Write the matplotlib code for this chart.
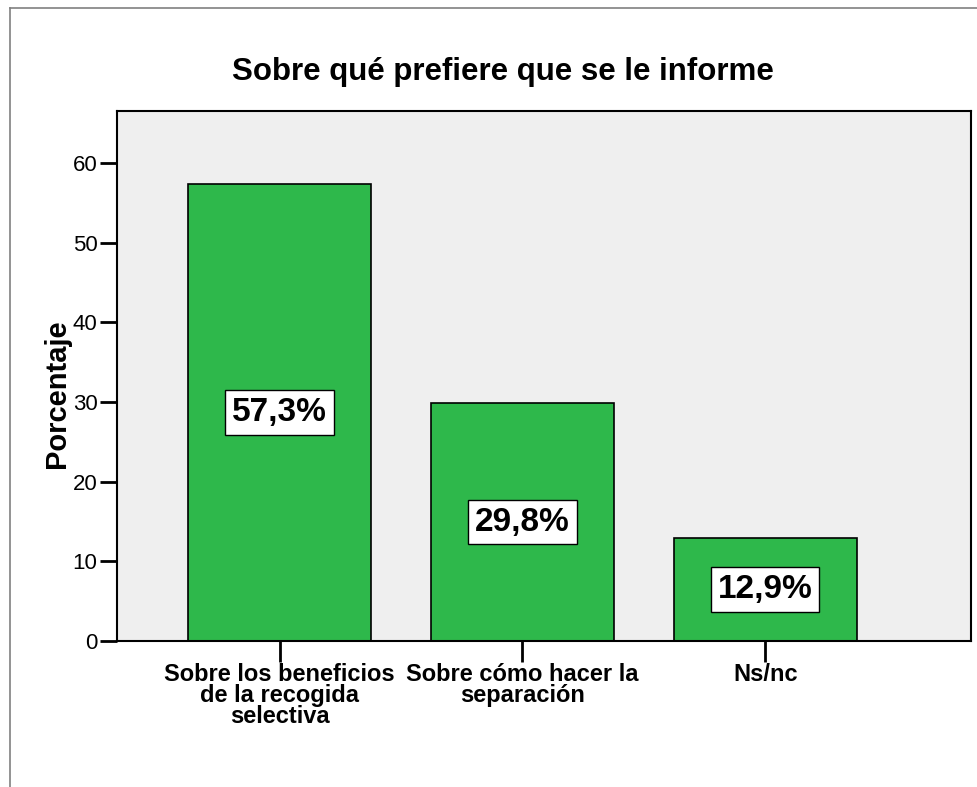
import matplotlib.pyplot as plt
from matplotlib.lines import Line2D

plt.rcParams['font.family'] = ['Liberation Sans', 'DejaVu Sans']

categories = ["Sobre los beneficios\nde la recogida\nselectiva",
              "Sobre cómo hacer la\nseparación",
              "Ns/nc"]
percentages = [57.3, 29.8, 12.9]
labels = ["57,3%", "29,8%", "12,9%"]
yticks = [0, 10, 20, 30, 40, 50, 60]

W, H = 977, 787
fig = plt.figure(figsize=(W / 100, H / 100), dpi=100)
ax = fig.add_axes([117 / W, 1 - 641 / H, (971 - 117) / W, (641 - 111) / H])
ax.set_facecolor('#efefef')

x = range(len(categories))
ax.bar(x, percentages, width=0.753, color='#2eb84b', edgecolor='black', linewidth=1.2, zorder=2)

for xi, v, lab in zip(x, percentages, labels):
    ax.text(xi, v / 2, lab, ha='center', va='center', fontsize=24, fontweight='bold',
            bbox=dict(boxstyle='square,pad=0.2', facecolor='white', edgecolor='black', linewidth=1),
            zorder=3)

ax.set_xlim(-0.669, 2.846)
ax.set_ylim(0, 66.5)
ax.set_yticks(yticks)
ax.set_xticks(list(x))
ax.set_xticklabels(categories, fontsize=17, fontweight='bold', linespacing=0.88)
ax.tick_params(axis='y', labelsize=16, length=12, width=2, pad=2)
ax.tick_params(axis='x', length=15, width=2, pad=1)
for s in ax.spines.values():
    s.set_linewidth(1.5)

ax.set_ylabel("Porcentaje", fontsize=21, fontweight='bold')
ax.yaxis.set_label_coords(-0.054, 0.466)
fig.text(503 / W, 1 - 72 / H, "Sobre qué prefiere que se le informe", ha='center', va='center',
         fontsize=22.5, fontweight='bold')

# outer frame (only left and top visible)
fig.add_artist(Line2D([9.5 / W, 9.5 / W], [0, 1 - 8 / H], transform=fig.transFigure, color='#808080', lw=1.2))
fig.add_artist(Line2D([9.5 / W, 1], [1 - 8 / H, 1 - 8 / H], transform=fig.transFigure, color='#808080', lw=1.2))

fig.savefig("out.png", dpi=100)
